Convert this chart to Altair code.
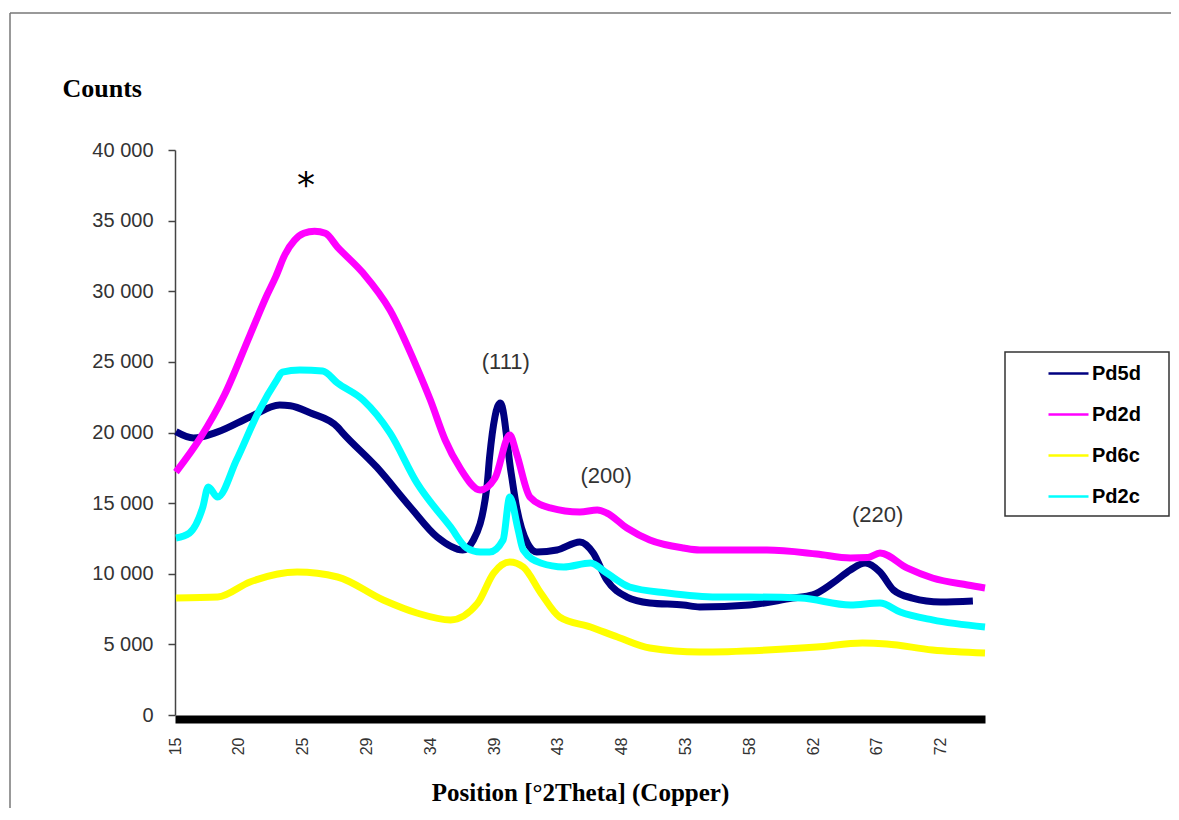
import altair as alt
import pandas as pd

# ---------------- data ----------------
series_names = ["Pd5d", "Pd2d", "Pd6c", "Pd2c"]
series_colors = ["#000080", "#FF00FF", "#FFFF00", "#00FFFF"]

pd5d_x = [15.1, 16.4, 18.2, 20.6, 22.8, 23.6, 25.1, 27.1, 27.5, 30.0, 32.5, 34.5, 36.4,
          37.2, 38.2, 38.4, 39.2, 40.0, 40.4, 41.2, 41.9, 43.4, 45.1, 46.1, 47.1, 48.6,
          50.3, 52.8, 54.0, 57.7, 60.9, 62.4, 63.9, 65.2, 66.3, 67.4, 68.4, 69.8, 71.9, 74.3]
pd5d_y = [20060, 19610, 20040, 21100, 21950, 21900, 21380, 20390, 19960, 17560, 14730, 12600, 11680,
          12390, 16140, 18270, 22090, 17130, 14730, 12180, 11540, 11680, 12250, 11470, 9560, 8350,
          7930, 7790, 7650, 7790, 8280, 8500, 9350, 10270, 10760, 10120, 8850, 8280, 8000, 8070]

pd2d_x = [15.1, 16.9, 18.7, 20.6, 21.9, 22.5, 23.2, 23.9, 24.6, 25.4, 26.2, 27.1, 29.0, 31.0, 33.0, 34.0,
          35.1, 36.2, 37.7, 38.8, 39.9, 40.4, 41.4, 42.9, 45.1, 46.4, 47.1, 48.6, 50.3,
          52.8, 54.0, 59.0, 62.7, 65.2, 66.5, 67.4, 69.4, 71.3, 73.9, 75.2]
pd2d_y = [17200, 19600, 22650, 26900, 29800, 31000, 32600, 33600, 34100, 34250, 34100, 33130, 31290, 28670, 24600, 22300,
          19470, 17490, 15930, 16780, 19820, 18500, 15430, 14660, 14370, 14510, 14300, 13240, 12390,
          11820, 11680, 11680, 11400, 11120, 11150, 11470, 10410, 9700, 9200, 8990]

pd6c_x = [15.1, 18.2, 20.6, 24.1, 27.1, 30.5, 33.0, 35.5, 37.5, 38.7, 39.9, 40.9, 42.2,
          43.6, 45.9, 47.9, 50.3, 54.0, 59.0, 62.7, 66.1, 67.9, 71.3, 75.2]
pd6c_y = [8280, 8350, 9420, 10120, 9770, 8140, 7220, 6730, 7900, 10050, 10830, 10480, 8640,
          6940, 6230, 5520, 4740, 4460, 4600, 4810, 5100, 5030, 4600, 4390]

pd2c_x = [15.1, 16.1, 17.1, 17.5, 18.2, 19.6, 21.3, 22.6, 23.0, 24.3, 26.0, 27.1, 29.0,
          31.0, 33.0, 35.5, 36.7, 37.7, 38.4, 39.4, 39.9, 40.5, 40.9, 42.2, 43.9, 45.9,
          47.1, 48.8, 51.6, 55.3, 57.7, 61.5, 65.2, 67.4, 68.9, 71.3, 75.2]
pd2c_y = [12530, 12880, 14730, 16140, 15430, 18050, 21590, 23720, 24280, 24420, 24350, 23500, 22300,
          19970, 16430, 13310, 11820, 11540, 11540, 12390, 15430, 13200, 11680, 10760, 10480, 10760,
          10050, 9060, 8640, 8350, 8350, 8280, 7790, 7930, 7290, 6730, 6230]

x_tick_positions = [15.03, 19.77, 24.51, 29.25, 33.99, 38.73, 43.47, 48.21, 52.95, 57.69, 62.43, 67.17, 71.91]
x_tick_labels = ["15", "20", "25", "29", "34", "39", "43", "48", "53", "58", "62", "67", "72"]
y_tick_values = [0, 5000, 10000, 15000, 20000, 25000, 30000, 35000, 40000]

ann_text = ["(111)", "(200)", "(220)"]
ann_x = [39.6, 47.05, 67.22]
ann_y = [25000, 16900, 14160]

star_text = ["*"]
star_x = [24.76]
star_y = [36700]

# ---------------- build table ----------------
rows = []
for name, xs, ys in [("Pd5d", pd5d_x, pd5d_y), ("Pd2d", pd2d_x, pd2d_y),
                     ("Pd6c", pd6c_x, pd6c_y), ("Pd2c", pd2c_x, pd2c_y)]:
    for i, (xv, yv) in enumerate(zip(xs, ys)):
        rows.append({"series": name, "pos": xv, "counts": yv, "idx": i})
df = pd.DataFrame(rows)

ann_df = pd.DataFrame({"t": ann_text, "pos": ann_x, "counts": ann_y})
star_df = pd.DataFrame({"t": star_text, "pos": star_x, "counts": star_y})

x_label_expr = ""
for p, l in zip(x_tick_positions, x_tick_labels):
    x_label_expr += f"abs(datum.value - {p}) < 0.01 ? '{l}' : "
x_label_expr += "''"

x_scale = alt.Scale(domain=[15.03, 75.2], nice=False, zero=False)
y_scale = alt.Scale(domain=[0, 40000], nice=False)

x_axis = alt.Axis(
    values=x_tick_positions, labelExpr=x_label_expr, labelAngle=270,
    labelFont="Liberation Sans", labelFontSize=16, labelColor="#333333",
    labelPadding=18, ticks=False, tickSize=0, domainColor="black", domainWidth=8,
    offset=4, grid=False, labelFlush=False, labelOverlap=False,
    title="Position [°2Theta] (Copper)", titleFont="Liberation Serif", titleFontSize=25,
    titleFontWeight="bold", titleColor="black", titleY=73, titleBaseline="middle",
)
y_axis = alt.Axis(
    values=y_tick_values, labelExpr="replace(format(datum.value, ','), ',', ' ')",
    labelFont="Liberation Sans", labelFontSize=20, labelColor="#333333",
    tickSize=7, tickColor="#444444", tickWidth=1.5, domainColor="#444444", domainWidth=1.5,
    labelPadding=15, grid=False,
    title="Counts", titleAngle=0, titleX=-113, titleY=-62, titleAlign="left",
    titleBaseline="middle", titleFont="Liberation Serif", titleFontSize=26,
    titleFontWeight="bold", titleColor="black",
)

legend = alt.Legend(
    orient="none", legendX=870, legendY=200, title=None,
    symbolType="stroke", symbolSize=1600, symbolStrokeWidth=2.5, symbolOffset=0,
    labelOffset=2, labelFont="Liberation Sans", labelFontWeight="bold", labelFontSize=20,
    labelColor="black", padding=2, rowPadding=9,
)

lines = alt.Chart(df).mark_line(strokeWidth=7, interpolate="monotone").encode(
    x=alt.X("pos:Q", scale=x_scale, axis=x_axis),
    y=alt.Y("counts:Q", scale=y_scale, axis=y_axis),
    color=alt.Color("series:N", sort=series_names,
                    scale=alt.Scale(domain=series_names, range=series_colors),
                    legend=legend),
    order="idx:Q",
)

ann = alt.Chart(ann_df).mark_text(
    font="Liberation Sans", fontSize=22, color="#333333", align="center", baseline="middle"
).encode(x=alt.X("pos:Q", scale=x_scale), y=alt.Y("counts:Q", scale=y_scale), text="t:N")

star = alt.Chart(star_df).mark_text(
    font="DejaVu Sans", fontSize=36, color="black", align="center", baseline="alphabetic"
).encode(x=alt.X("pos:Q", scale=x_scale), y=alt.Y("counts:Q", scale=y_scale), text="t:N")

deco_df = pd.DataFrame({"k": [0]})
frame_top = alt.Chart(deco_df).mark_rule(color="#777777", strokeWidth=1.5).encode(
    x=alt.value(-165), x2=alt.value(996), y=alt.value(-137))
frame_left = alt.Chart(deco_df).mark_rule(color="#777777", strokeWidth=1.5).encode(
    x=alt.value(-165), y=alt.value(-137), y2=alt.value(658))
legend_box = alt.Chart(deco_df).mark_rect(
    fillOpacity=0, stroke="#333333", strokeWidth=1.5
).encode(x=alt.value(830), x2=alt.value(994), y=alt.value(202), y2=alt.value(366))

chart = alt.layer(lines, ann, star, frame_top, frame_left, legend_box).properties(
    width=810, height=565,
    autosize=alt.AutoSizeParams(type="none"),
    padding={"left": 167, "top": 142, "right": 186, "bottom": 93},
).configure_view(strokeWidth=0)

chart.save("out.html", embed_options={"renderer": "svg", "actions": False})
